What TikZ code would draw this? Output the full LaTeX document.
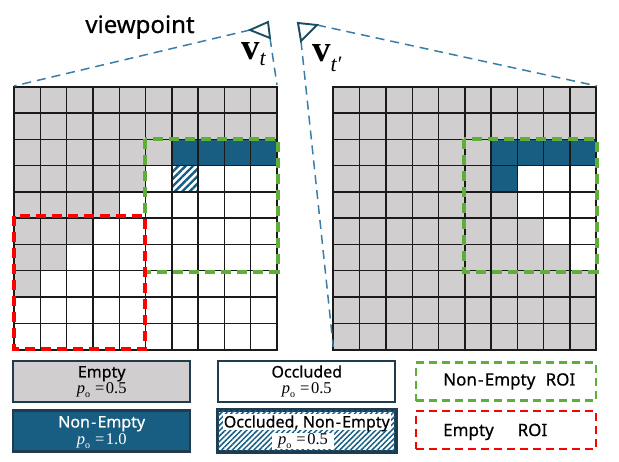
\documentclass[tikz,border=0pt]{standalone}
\usepackage{fontspec}
\setmainfont{Liberation Serif}
\setsansfont{Noto Sans}
\newfontfamily\lblfont{Noto Sans}[FakeBold=0.6]
\usetikzlibrary{patterns.meta}
\definecolor{cgray}{HTML}{D0CECE}
\definecolor{cblue}{HTML}{175E82}
\definecolor{cnavy}{HTML}{1F3B4D}
\definecolor{cgreen}{HTML}{5FAE3A}
\definecolor{cred}{HTML}{FF0000}
\definecolor{cview}{HTML}{3A7EA5}
\definecolor{ctri}{HTML}{1A4D60}
\definecolor{cgrid}{HTML}{1A1A1A}
\newcommand{\pval}[1]{{\itshape p}\raisebox{-0.22em}{\fontsize{10}{10}\selectfont o}\kern0.3em=\kern0.1em#1}
\newcommand{\nonempty}{Non\kern1.2pt-\kern1.2pt Empty}
\begin{document}
\begin{tikzpicture}[x=1pt,y=-1pt,
  gridline/.style={draw=cgrid,line width=1.4pt},
  gridframe/.style={draw=cgrid,line width=1.7pt},
  roigreen/.style={draw=cgreen,line width=4pt,dash pattern=on 10pt off 6pt},
  roired/.style={draw=cred,line width=4pt,dash pattern=on 10pt off 6pt},
  viewline/.style={draw=cview,line width=1.5pt,dash pattern=on 9pt off 6pt},
  tri/.style={draw=ctri,line width=1.9pt,line join=miter},
  legbox/.style={draw=cnavy,line width=2.2pt,minimum width=177pt,minimum height=41pt,inner sep=0pt},
  roibox/.style={line width=2.8pt,dash pattern=on 8pt off 5pt,minimum width=180pt,minimum height=38pt,inner sep=0pt},
  lbl/.style={font=\lblfont\fontsize{16}{17}\selectfont,inner sep=0pt,anchor=base,text depth=1pt},
  roilbl/.style={font=\lblfont\fontsize{17}{19}\selectfont,inner sep=0pt,anchor=base west},
  mathlbl/.style={font=\fontsize{16.5}{18}\selectfont,inner sep=0pt,anchor=base},
  hatchcell/.style={pattern={Lines[angle=45,distance=5.2pt,line width=2.4pt]},pattern color=cblue},
  hatchleg/.style={pattern={Lines[angle=45,distance=3.8pt,line width=1.5pt]},pattern color=cblue},
]
\useasboundingbox (0,0) rectangle (619,462);
\def\cs{26.3}
% ---------- left grid ----------
\def\xa{14}\def\ya{86.7}
\foreach \r/\g in {0/10,1/10,2/6,3/5,4/4,5/3,6/2,7/1}
  \fill[cgray] (\xa,\ya+\r*\cs) rectangle ++(\g*\cs,\cs);
\fill[cblue] (\xa+6*\cs,\ya+2*\cs) rectangle ++(4*\cs,\cs);
\fill[white] (\xa+6*\cs,\ya+3*\cs) rectangle ++(\cs,\cs);
\fill[hatchcell] (\xa+6*\cs,\ya+3*\cs) rectangle ++(\cs,\cs);
\foreach \i in {0,...,10}{
  \draw[gridline] (\xa+\i*\cs,\ya) -- ++(0,10*\cs);
  \draw[gridline] (\xa,\ya+\i*\cs) -- ++(10*\cs,0);
}
\draw[gridframe] (\xa,\ya) rectangle ++(10*\cs,10*\cs);
% ---------- right grid ----------
\def\xb{333.3}
\fill[cgray] (\xb,\ya) rectangle ++(10*\cs,10*\cs);
\fill[cblue] (\xb+6*\cs,\ya+2*\cs) rectangle ++(4*\cs,\cs);
\fill[cblue] (\xb+6*\cs,\ya+3*\cs) rectangle ++(\cs,\cs);
\fill[white] (\xb+7*\cs,\ya+3*\cs) rectangle ++(3*\cs,\cs);
\fill[white] (\xb+7*\cs,\ya+4*\cs) rectangle ++(3*\cs,\cs);
\fill[white] (\xb+8*\cs,\ya+5*\cs) rectangle ++(2*\cs,\cs);
\fill[white] (\xb+9*\cs,\ya+6*\cs) rectangle ++(\cs,\cs);
\foreach \i in {0,...,10}{
  \draw[gridline] (\xb+\i*\cs,\ya) -- ++(0,10*\cs);
  \draw[gridline] (\xb,\ya+\i*\cs) -- ++(10*\cs,0);
}
\draw[gridframe] (\xb,\ya) rectangle ++(10*\cs,10*\cs);
% ---------- ROIs ----------
\draw[roigreen] (145.3,139.3) rectangle (277.7,271.7);
\draw[roired] (14,216) rectangle (145.3,348.7);
\draw[roigreen] (464.3,139.3) rectangle (596.7,271.7);
% ---------- viewpoints ----------
\coordinate (L1) at (250,30);
\coordinate (L2) at (268,22);
\coordinate (L3) at (270,38);
\coordinate (R1) at (298,23);
\coordinate (R2) at (317,25);
\coordinate (R3) at (301,41);
\coordinate (gLtl) at (14,86);
\coordinate (gLtr) at (277,85);
\coordinate (gRtr) at (597,86);
\coordinate (gRbl) at (333.3,347);
\draw[viewline] (L1) -- (gLtl);
\draw[viewline] (L3) -- (gLtr);
\draw[viewline] (R2) -- (gRtr);
\draw[viewline] (R3) -- (gRbl);
\draw[tri] (L1) -- (L2) -- (L3) -- cycle;
\draw[tri] (R1) -- (R2) -- (R3) -- cycle;
\node[font=\lblfont\fontsize{24}{26}\selectfont,inner sep=0pt,anchor=base] (vp) at (140,33) {viewpoint};
\node[inner sep=0pt,anchor=base west] (vt) at (241,60)
  {\fontsize{37}{37}\selectfont\bfseries v\raisebox{-6pt}{\fontsize{22}{22}\selectfont\mdseries\itshape t}};
\node[inner sep=0pt,anchor=base west] (vtp) at (312,61.5)
  {\fontsize{37}{37}\selectfont\bfseries v\raisebox{-10pt}{\fontsize{22}{22}\selectfont\mdseries\itshape t\kern1pt\upshape\char"2032}};
% ---------- legend ----------
\node[legbox,fill=cgray] (bEmpty) at (101.7,381.5) {};
\node[lbl] (tEmpty) at (101.7,377.5) {Empty};
\node[mathlbl] (pEmpty) at (101.7,394) {\pval{0.5}};
\node[legbox,fill=cblue] (bNE) at (101.7,431) {};
\node[lbl,text=white] (tNE) at (101.7,427.5) {\nonempty};
\node[mathlbl,text=white] (pNE) at (101.7,444.5) {\pval{1.0}};
\node[legbox,fill=white] (bOcc) at (306.8,381.5) {};
\node[lbl] (tOcc) at (306.8,377.5) {Occluded};
\node[mathlbl] (pOcc) at (306.8,394) {\pval{0.5}};
\node[legbox,fill=white] (bONE) at (306.8,431) {};
\fill[hatchleg] (bONE.south west) rectangle (bONE.north east);
\draw[draw=cnavy,line width=2.2pt] (bONE.south west) rectangle (bONE.north east);
\node[mathlbl,fill=white,inner xsep=6pt,inner ysep=1pt] (pONE) at (303,444.5) {\pval{0.5}};
\node[lbl,fill=white,inner xsep=1pt,inner ysep=1.5pt] (tONE) at (306.8,427.5) {Occluded, \nonempty};
\node[roibox,draw=cgreen] (bRoiG) at (506,381.7) {};
\node[roilbl] (tRoiG) at (443,385.5) {\nonempty\hspace{0.6em}ROI};
\node[roibox,draw=cred] (bRoiR) at (506,430) {};
\node[roilbl] (tRoiR) at (443,436) {Empty\hspace{1.4em}ROI};
\end{tikzpicture}
\end{document}
